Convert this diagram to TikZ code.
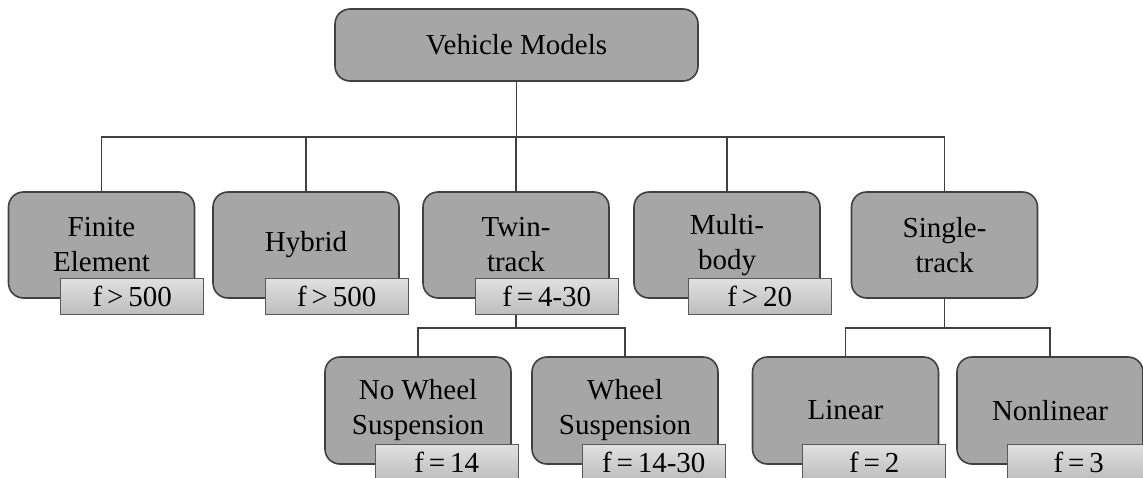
\documentclass[tikz,border=0pt]{standalone}
\usepackage{fontspec}
\setmainfont{Liberation Serif}
\begin{document}
\begin{tikzpicture}[x=1pt,y=-1pt,
  every node/.style={font=\fontsize{29}{35}\selectfont, text=black, inner sep=0pt},
  model/.style={draw=black!75, line width=1.6pt, fill=black!35, rounded corners=15pt,
    align=center, minimum width=186pt, minimum height=106pt},
  freq/.style={draw=black!65, line width=1pt, top color=black!12, bottom color=black!26,
    minimum width=143pt, minimum height=36pt, anchor=north east},
  link/.style={draw=black!75, line width=1.4pt}]
\useasboundingbox (0,0) rectangle (1143,477);
\clip (0,0) rectangle (1143,477);

% root
\node[model, minimum width=363pt, minimum height=72pt] (root) at (516.5,45) {Vehicle Models};

% first level
\node[model] (fe) at (101.5,245) {Finite\\Element};
\node[model] (hy) at (306,245) {Hybrid};
\node[model] (tt) at (516,245) {Twin-\\track};
\node[model] (mb) at (727,245) {Multi-\\body};
\node[model] (st) at (944.5,245) {Single-\\track};

% second level
\node[model, minimum height=107pt] (nw) at (418,410.5) {No Wheel\\Suspension};
\node[model, minimum height=107pt] (ws) at (625,410.5) {Wheel\\Suspension};
\node[model, minimum height=107pt] (li) at (845.5,410.5) {Linear};
\node[model, minimum height=107pt] (nl) at (1050,410.5) {Nonlinear};

% connectors
\coordinate (busA) at (516,137);
\coordinate (busB) at (516,328);
\draw[link] (root.south) -- (root.south |- busA);
\draw[link] (fe.north) -- (fe.north |- busA) -- (st.north |- busA) -- (st.north);
\draw[link] (hy.north) -- (hy.north |- busA);
\draw[link] (tt.north) -- (tt.north |- busA);
\draw[link] (mb.north) -- (mb.north |- busA);

\draw[link] (tt.south) -- (tt.south |- busB);
\draw[link] (nw.north) -- (nw.north |- busB) -- (ws.north |- busB) -- (ws.north);
\draw[link] (st.south) -- (st.south |- busB);
\draw[link] (li.north) -- (li.north |- busB) -- (nl.north |- busB) -- (nl.north);

% frequency tags
\node[freq] (fef) at ([xshift=9pt,yshift=21pt]fe.south east) {f\,>\,500};
\node[freq] (hyf) at ([xshift=9pt,yshift=21pt]hy.south east) {f\,>\,500};
\node[freq] (ttf) at ([xshift=9pt,yshift=21pt]tt.south east) {f\,=\,4-30};
\node[freq] (mbf) at ([xshift=11pt,yshift=21pt]mb.south east) {f\,>\,20};
\node[freq] (nwf) at ([xshift=7pt,yshift=21pt]nw.south east) {f\,=\,14};
\node[freq] (wsf) at ([xshift=7pt,yshift=21pt]ws.south east) {f\,=\,14-30};
\node[freq] (lif) at ([xshift=7pt,yshift=21pt]li.south east) {f\,=\,2};
\node[freq] (nlf) at ([xshift=7pt,yshift=21pt]nl.south east) {f\,=\,3};
\end{tikzpicture}
\end{document}
